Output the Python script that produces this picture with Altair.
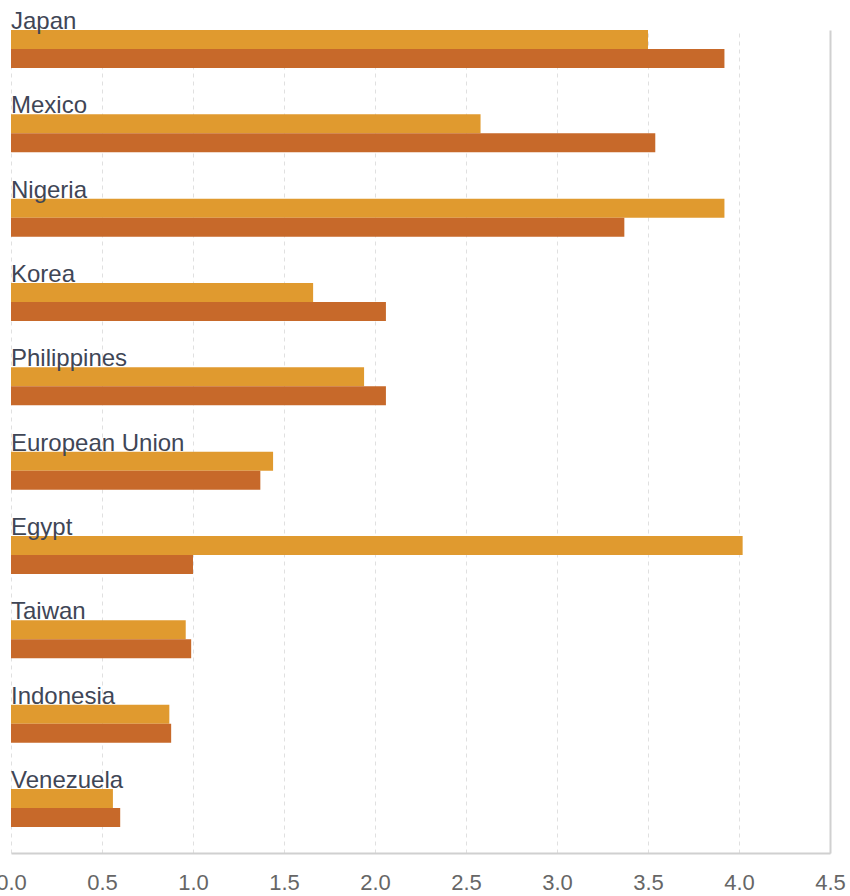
import altair as alt
import pandas as pd

countries = ["Japan", "Mexico", "Nigeria", "Korea", "Philippines",
             "European Union", "Egypt", "Taiwan", "Indonesia", "Venezuela"]
series_light = [3.50, 2.58, 3.92, 1.66, 1.94, 1.44, 4.02, 0.96, 0.87, 0.56]
series_dark = [3.92, 3.54, 3.37, 2.06, 2.06, 1.37, 1.00, 0.99, 0.88, 0.60]
series_names = ["Series 1", "Series 2"]
tick_values = [0.0, 0.5, 1.0, 1.5, 2.0, 2.5, 3.0, 3.5, 4.0, 4.5]
colors = ["#E09A2F", "#C7692A"]

rows = []
for c, a, b in zip(countries, series_light, series_dark):
    rows.append({"country": c, "series": series_names[0], "value": a})
    rows.append({"country": c, "series": series_names[1], "value": b})
df = pd.DataFrame(rows)
labels_df = pd.DataFrame({"country": countries})

font = "Liberation Sans"

y_enc = alt.Y(
    "country:N",
    sort=countries,
    scale=alt.Scale(paddingInner=0.549, paddingOuter=0.154, align=0),
    axis=alt.Axis(orient="right", labels=False, ticks=False, grid=False,
                  domain=True, domainColor="#d0d0d0", domainWidth=2, title=None),
)

x_enc = alt.X(
    "value:Q",
    scale=alt.Scale(domain=[0, 4.5], nice=False, zero=True),
    axis=alt.Axis(values=tick_values, format=".1f", grid=True, gridDash=[4, 4],
                  gridColor="#e0e0e0", gridWidth=1, ticks=False, domain=True,
                  domainColor="#d0d0d0", domainWidth=2, labelFontSize=22,
                  labelFont=font, labelColor="#666666", labelPadding=19,
                  labelFlush=False, title=None),
)

bars = alt.Chart(df).mark_bar().encode(
    x=x_enc,
    y=y_enc,
    yOffset=alt.YOffset("series:N", sort=series_names,
                        scale=alt.Scale(paddingInner=0, paddingOuter=0)),
    color=alt.Color("series:N", scale=alt.Scale(domain=series_names, range=colors),
                    legend=None),
)

texts = alt.Chart(labels_df).mark_text(
    align="left", baseline="alphabetic", dy=-20, fontSize=24, font=font,
    color="#3f4656",
).encode(
    x=alt.value(0),
    y=y_enc,
    text="country:N",
)

chart = alt.layer(bars, texts).properties(
    width=819, height=823,
    autosize=alt.AutoSizeParams(type="none"),
    padding={"left": 11, "top": 30, "right": 20, "bottom": 43},
    background="white",
).configure_view(strokeWidth=0)

chart.save("out.html", embed_options={"renderer": "svg", "actions": False})
